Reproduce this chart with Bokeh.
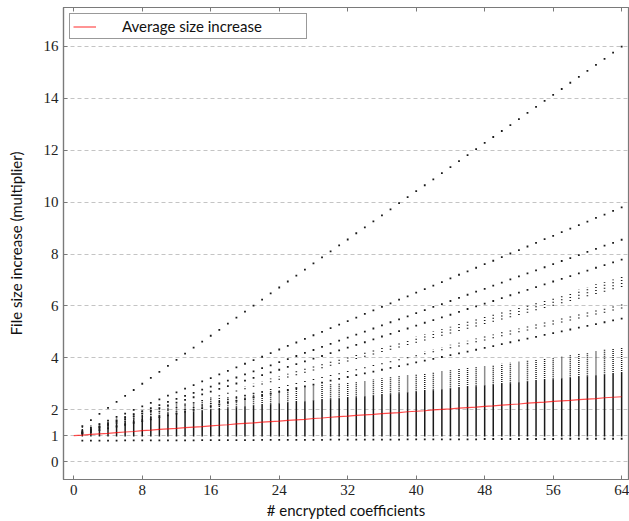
from bokeh.plotting import figure
from bokeh.models import ColumnDataSource, LinearAxis, FixedTicker, Range1d
from bokeh.embed import file_html
from bokeh.resources import INLINE

# ---------------- data ----------------
n_coeffs = list(range(1, 65))
n_avg = list(range(0, 65))

x_ticks = [0, 8, 16, 24, 32, 40, 48, 56, 64]
y_ticks = [0, 1, 2, 4, 6, 8, 10, 12, 14, 16]

avg_increase = [1.00, 1.02, 1.05, 1.07, 1.09, 1.12, 1.14, 1.16, 1.19, 1.21, 1.24,
                1.26, 1.28, 1.31, 1.33, 1.35, 1.38, 1.40, 1.42, 1.45, 1.47,
                1.49, 1.52, 1.54, 1.56, 1.59, 1.61, 1.63, 1.66, 1.68, 1.71,
                1.73, 1.75, 1.78, 1.80, 1.82, 1.85, 1.87, 1.89, 1.92, 1.94,
                1.96, 1.99, 2.01, 2.03, 2.06, 2.08, 2.10, 2.13, 2.15, 2.18,
                2.20, 2.22, 2.25, 2.27, 2.29, 2.32, 2.34, 2.36, 2.39, 2.41,
                2.43, 2.46, 2.48, 2.50]

line_top = [1.37, 1.60, 1.84, 2.07, 2.30, 2.53, 2.76, 3.00, 3.23, 3.46, 3.69, 3.92, 4.16, 4.39, 4.62, 4.85,
            5.08, 5.32, 5.55, 5.78, 6.01, 6.24, 6.48, 6.71, 6.94, 7.17, 7.40, 7.64, 7.87, 8.10, 8.33, 8.56,
            8.80, 9.03, 9.26, 9.49, 9.72, 9.96, 10.19, 10.42, 10.65, 10.88, 11.12, 11.35, 11.58, 11.81, 12.04, 12.28,
            12.51, 12.74, 12.97, 13.20, 13.44, 13.67, 13.90, 14.13, 14.36, 14.60, 14.83, 15.06, 15.29, 15.52, 15.76, 15.99]

line_2 = [1.17, 1.30, 1.44, 1.58, 1.72, 1.85, 1.99, 2.13, 2.26, 2.40, 2.54, 2.67, 2.81, 2.95, 3.09, 3.22,
          3.36, 3.50, 3.63, 3.77, 3.91, 4.04, 4.18, 4.32, 4.46, 4.59, 4.73, 4.87, 5.00, 5.14, 5.28, 5.41,
          5.55, 5.69, 5.83, 5.96, 6.10, 6.24, 6.37, 6.51, 6.65, 6.78, 6.92, 7.06, 7.20, 7.33, 7.47, 7.61,
          7.74, 7.88, 8.02, 8.15, 8.29, 8.43, 8.57, 8.70, 8.84, 8.98, 9.11, 9.25, 9.39, 9.52, 9.66, 9.80]

line_3 = [1.12, 1.24, 1.35, 1.47, 1.59, 1.71, 1.83, 1.94, 2.06, 2.18, 2.30, 2.42, 2.53, 2.65, 2.77, 2.89,
          3.01, 3.12, 3.24, 3.36, 3.48, 3.60, 3.71, 3.83, 3.95, 4.07, 4.19, 4.30, 4.42, 4.54, 4.66, 4.78,
          4.89, 5.01, 5.13, 5.25, 5.37, 5.48, 5.60, 5.72, 5.84, 5.96, 6.07, 6.19, 6.31, 6.43, 6.55, 6.66,
          6.78, 6.90, 7.02, 7.14, 7.25, 7.37, 7.49, 7.61, 7.73, 7.84, 7.96, 8.08, 8.20, 8.32, 8.43, 8.55]

line_4 = [1.11, 1.21, 1.32, 1.42, 1.53, 1.64, 1.74, 1.85, 1.95, 2.06, 2.17, 2.27, 2.38, 2.48, 2.59, 2.70,
          2.80, 2.91, 3.01, 3.12, 3.23, 3.33, 3.44, 3.54, 3.65, 3.76, 3.86, 3.97, 4.07, 4.18, 4.29, 4.39,
          4.50, 4.60, 4.71, 4.82, 4.92, 5.03, 5.13, 5.24, 5.35, 5.45, 5.56, 5.66, 5.77, 5.88, 5.98, 6.09,
          6.19, 6.30, 6.41, 6.51, 6.62, 6.72, 6.83, 6.94, 7.04, 7.15, 7.25, 7.36, 7.47, 7.57, 7.68, 7.78]

line_5 = [1.07, 1.14, 1.21, 1.28, 1.35, 1.42, 1.49, 1.56, 1.63, 1.71, 1.78, 1.85, 1.92, 1.99, 2.06, 2.13,
          2.20, 2.27, 2.34, 2.41, 2.48, 2.55, 2.62, 2.69, 2.76, 2.83, 2.90, 2.97, 3.04, 3.12, 3.19, 3.26,
          3.33, 3.40, 3.47, 3.54, 3.61, 3.68, 3.75, 3.82, 3.89, 3.96, 4.03, 4.10, 4.17, 4.24, 4.31, 4.38,
          4.45, 4.53, 4.60, 4.67, 4.74, 4.81, 4.88, 4.95, 5.02, 5.09, 5.16, 5.23, 5.30, 5.37, 5.44, 5.51]

cluster1_low = [1.09, 1.18, 1.27, 1.36, 1.45, 1.54, 1.63, 1.72, 1.81, 1.90, 1.98, 2.07, 2.16, 2.25, 2.34, 2.43,
                2.52, 2.61, 2.70, 2.79, 2.88, 2.97, 3.06, 3.15, 3.24, 3.33, 3.42, 3.51, 3.60, 3.69, 3.77, 3.86,
                3.95, 4.04, 4.13, 4.22, 4.31, 4.40, 4.49, 4.58, 4.67, 4.76, 4.85, 4.94, 5.03, 5.12, 5.21, 5.30,
                5.39, 5.48, 5.56, 5.65, 5.74, 5.83, 5.92, 6.01, 6.10, 6.19, 6.28, 6.37, 6.46, 6.55, 6.64, 6.73]
cluster1_high = [1.10, 1.19, 1.29, 1.38, 1.48, 1.57, 1.67, 1.76, 1.86, 1.96, 2.05, 2.15, 2.24, 2.34, 2.43, 2.53,
                 2.62, 2.72, 2.81, 2.91, 3.01, 3.10, 3.20, 3.29, 3.39, 3.48, 3.58, 3.67, 3.77, 3.87, 3.96, 4.06,
                 4.15, 4.25, 4.34, 4.44, 4.53, 4.63, 4.72, 4.82, 4.92, 5.01, 5.11, 5.20, 5.30, 5.39, 5.49, 5.58,
                 5.68, 5.78, 5.87, 5.97, 6.06, 6.16, 6.25, 6.35, 6.44, 6.54, 6.63, 6.73, 6.83, 6.92, 7.02, 7.11]

cluster2_low = [1.08, 1.15, 1.23, 1.31, 1.38, 1.46, 1.54, 1.61, 1.69, 1.77, 1.84, 1.92, 1.99, 2.07, 2.15, 2.22,
                2.30, 2.38, 2.45, 2.53, 2.61, 2.68, 2.76, 2.84, 2.91, 2.99, 3.07, 3.14, 3.22, 3.30, 3.37, 3.45,
                3.52, 3.60, 3.68, 3.75, 3.83, 3.91, 3.98, 4.06, 4.14, 4.21, 4.29, 4.37, 4.44, 4.52, 4.60, 4.67,
                4.75, 4.83, 4.90, 4.98, 5.05, 5.13, 5.21, 5.28, 5.36, 5.44, 5.51, 5.59, 5.67, 5.74, 5.82, 5.90]
cluster2_high = [1.08, 1.16, 1.24, 1.32, 1.40, 1.48, 1.56, 1.64, 1.72, 1.80, 1.87, 1.95, 2.03, 2.11, 2.19, 2.27,
                 2.35, 2.43, 2.51, 2.59, 2.67, 2.75, 2.83, 2.91, 2.99, 3.07, 3.15, 3.23, 3.31, 3.39, 3.46, 3.54,
                 3.62, 3.70, 3.78, 3.86, 3.94, 4.02, 4.10, 4.18, 4.26, 4.34, 4.42, 4.50, 4.58, 4.66, 4.74, 4.82,
                 4.90, 4.98, 5.05, 5.13, 5.21, 5.29, 5.37, 5.45, 5.53, 5.61, 5.69, 5.77, 5.85, 5.93, 6.01, 6.09]

# dense bulk of each column: solid part and sparser upper part
dense_low = [0.97, 0.97, 0.97, 0.97, 0.97, 0.97, 0.97, 0.97, 0.97, 0.97, 0.97, 0.97, 0.97, 0.97, 0.97, 0.97,
             0.97, 0.97, 0.97, 0.97, 0.97, 0.97, 0.97, 0.97, 0.97, 0.97, 0.97, 0.97, 0.97, 0.97, 0.97, 0.97,
             0.97, 0.97, 0.97, 0.97, 0.97, 0.97, 0.97, 0.97, 0.97, 0.97, 0.97, 0.97, 0.97, 0.97, 0.97, 0.97,
             0.97, 0.97, 0.97, 0.97, 0.97, 0.97, 0.97, 0.97, 0.97, 0.97, 0.97, 0.97, 0.97, 0.97, 0.97, 0.97]
dense_solid_top = [1.22, 1.28, 1.35, 1.42, 1.48, 1.55, 1.62, 1.68, 1.73, 1.77, 1.81, 1.85, 1.89, 1.93, 1.96, 2.00,
                   2.03, 2.06, 2.09, 2.12, 2.15, 2.18, 2.21, 2.24, 2.27, 2.30, 2.32, 2.35, 2.37, 2.40, 2.42, 2.45,
                   2.48, 2.51, 2.54, 2.57, 2.60, 2.63, 2.66, 2.69, 2.72, 2.75, 2.78, 2.81, 2.84, 2.87, 2.90, 2.93,
                   2.96, 2.99, 3.02, 3.05, 3.08, 3.11, 3.14, 3.17, 3.20, 3.23, 3.26, 3.29, 3.32, 3.35, 3.38, 3.41]
dense_top = [1.32, 1.40, 1.50, 1.58, 1.66, 1.76, 1.86, 1.95, 2.02, 2.08, 2.14, 2.20, 2.26, 2.31, 2.36, 2.41,
             2.46, 2.51, 2.55, 2.60, 2.64, 2.69, 2.73, 2.77, 2.81, 2.85, 2.88, 2.92, 2.95, 2.99, 3.02, 3.05,
             3.09, 3.13, 3.17, 3.21, 3.25, 3.29, 3.33, 3.37, 3.41, 3.45, 3.49, 3.53, 3.57, 3.61, 3.65, 3.69,
             3.73, 3.77, 3.81, 3.85, 3.89, 3.93, 3.97, 4.01, 4.06, 4.11, 4.16, 4.21, 4.26, 4.31, 4.36, 4.41]
lowest = [0.81, 0.81, 0.81, 0.81, 0.81, 0.82, 0.82, 0.82, 0.82, 0.82, 0.82, 0.82, 0.82, 0.82, 0.83, 0.83,
          0.83, 0.83, 0.83, 0.83, 0.83, 0.84, 0.84, 0.84, 0.84, 0.84, 0.84, 0.84, 0.84, 0.85, 0.85, 0.85,
          0.85, 0.85, 0.85, 0.85, 0.85, 0.85, 0.86, 0.86, 0.86, 0.86, 0.86, 0.86, 0.86, 0.86, 0.86, 0.87,
          0.87, 0.87, 0.87, 0.87, 0.87, 0.87, 0.87, 0.87, 0.88, 0.88, 0.88, 0.88, 0.88, 0.88, 0.88, 0.88]

# ---------------- figure ----------------
AXIS_GRAY = "#7a7a7a"
DOT = "#1a1a1a"
SERIF = "Liberation Serif"
SANS = "Lato"

p = figure(width=629, height=521, output_backend="svg", toolbar_location=None,
           x_range=Range1d(-1.2, 64.8), y_range=Range1d(-0.69, 17.5),
           min_border_left=63, min_border_right=1, min_border_top=7, min_border_bottom=41,
           background_fill_color="white", border_fill_color="white")
p.outline_line_color = AXIS_GRAY
p.outline_line_width = 1.2

p.xgrid.visible = False
p.ygrid.ticker = FixedTicker(ticks=y_ticks)
p.ygrid.grid_line_color = "#c4c4c4"
p.ygrid.grid_line_dash = "4 3"
p.ygrid.grid_line_width = 1

for ax, ticks in ((p.xaxis[0], x_ticks), (p.yaxis[0], y_ticks)):
    ax.ticker = FixedTicker(ticks=ticks)
    ax.minor_tick_line_color = None
    ax.major_tick_in = 4
    ax.major_tick_out = 0
    ax.major_tick_line_color = AXIS_GRAY
    ax.axis_line_color = AXIS_GRAY
    ax.axis_line_width = 1.2
    ax.major_label_text_font = SERIF
    ax.major_label_text_font_size = "15px"
    ax.major_label_text_color = "#222222"
    ax.axis_label_text_font = SANS
    ax.axis_label_text_font_size = "15px"
    ax.axis_label_text_font_style = "normal"
    ax.axis_label_text_color = "#111111"
    ax.major_label_standoff = 5

p.xaxis.axis_label = "# encrypted coefficients"
p.xaxis.axis_label_standoff = 3
p.yaxis.axis_label = "File size increase (multiplier)"
p.yaxis.axis_label_standoff = 16

# mirrored tick marks on the top edge (no labels drawn)
top_axis = LinearAxis(ticker=FixedTicker(ticks=x_ticks), major_tick_in=4, major_tick_out=0,
                      major_label_text_color=None, major_label_text_font_size="1px",
                      major_label_standoff=0,
                      minor_tick_line_color=None, major_tick_line_color=AXIS_GRAY,
                      axis_line_color=AXIS_GRAY, axis_line_width=1.2)
p.add_layout(top_axis, "above")

# dense bulk of each column
p.segment(x0=n_coeffs, y0=dense_low, x1=n_coeffs, y1=dense_solid_top,
          line_color=DOT, line_width=1.5)
p.segment(x0=n_coeffs, y0=dense_solid_top, x1=n_coeffs, y1=dense_top,
          line_color=DOT, line_width=1.5, line_dash="1 1")

# small clusters of points
for lo, hi in ((cluster1_low, cluster1_high), (cluster2_low, cluster2_high)):
    p.segment(x0=n_coeffs, y0=lo, x1=n_coeffs, y1=hi,
              line_color=DOT, line_width=1.6, line_dash="1 2")

# single lines of points
xs, ys = [], []
for series in (line_top, line_2, line_3, line_4, line_5, lowest):
    xs += n_coeffs
    ys += series
pts = ColumnDataSource(data=dict(x=xs, y=ys))
p.scatter("x", "y", source=pts, marker="square", size=1.8,
          fill_color=DOT, line_color=None)

# average
p.line(n_avg, avg_increase, line_color="red", line_width=1.2, line_alpha=0.7,
       legend_label="Average size increase")

lg = p.legend[0]
lg.location = "top_left"
lg.margin = 6
lg.padding = 3
lg.glyph_width = 23
lg.glyph_height = 17
lg.label_standoff = 26
lg.label_width = 181
lg.label_height = 17
lg.spacing = 0
lg.border_line_color = "#333333"
lg.border_line_width = 1
lg.label_text_font = SANS
lg.label_text_font_size = "15px"
lg.label_text_color = "#111111"
lg.background_fill_alpha = 1

open("out.html", "w").write(file_html(p, INLINE))
